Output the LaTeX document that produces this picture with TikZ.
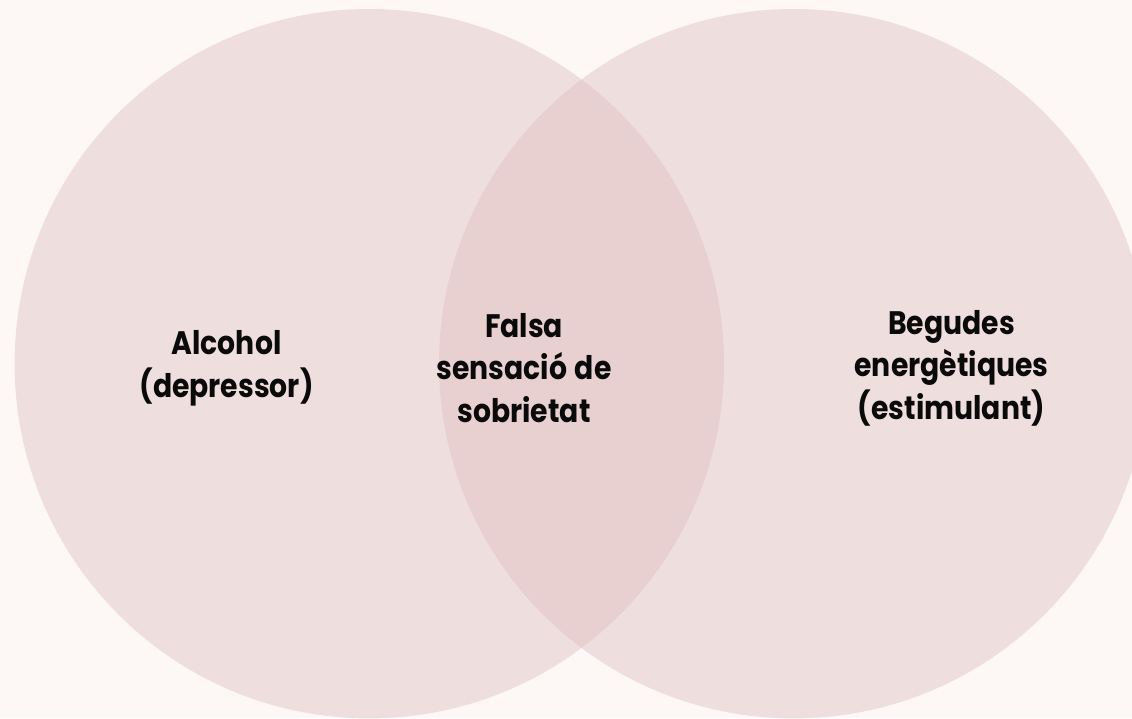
\documentclass[tikz,border=0pt]{standalone}
\usepackage{fontspec}
\setmainfont{Poppins}[FakeStretch=0.87,WordSpace=1.3]
\definecolor{bg}{HTML}{FDF8F5}
\definecolor{circ}{HTML}{EFDEDE}
\definecolor{lens}{HTML}{E8D0D1}
\definecolor{txt}{HTML}{0A0A0A}
\begin{document}
\begin{tikzpicture}[x=1pt,y=-1pt,
  lbl/.style={align=center,inner sep=0pt,text=txt,font=\fontsize{32.5}{42.5}\selectfont\bfseries}]
\useasboundingbox (0,0) rectangle (1132,718);
\fill[bg] (0,0) rectangle (1132,718);
\fill[circ] (369.3,363.7) circle[radius=354.7];
\fill[circ] (793.7,363.7) circle[radius=354.7];
\begin{scope}
  \clip (369.3,363.7) circle[radius=354.7];
  \fill[lens] (793.7,363.7) circle[radius=354.7];
\end{scope}
\node[lbl] (alc) at (226.5,368.5) {Alcohol\\(depressor)};
\node[lbl] (fal) at (524,368) {Falsa\\sensació de\\sobrietat};
\node[lbl] (beg) at (951.5,368) {Begudes\\energètiques\\(estimulant)};
\end{tikzpicture}
\end{document}
